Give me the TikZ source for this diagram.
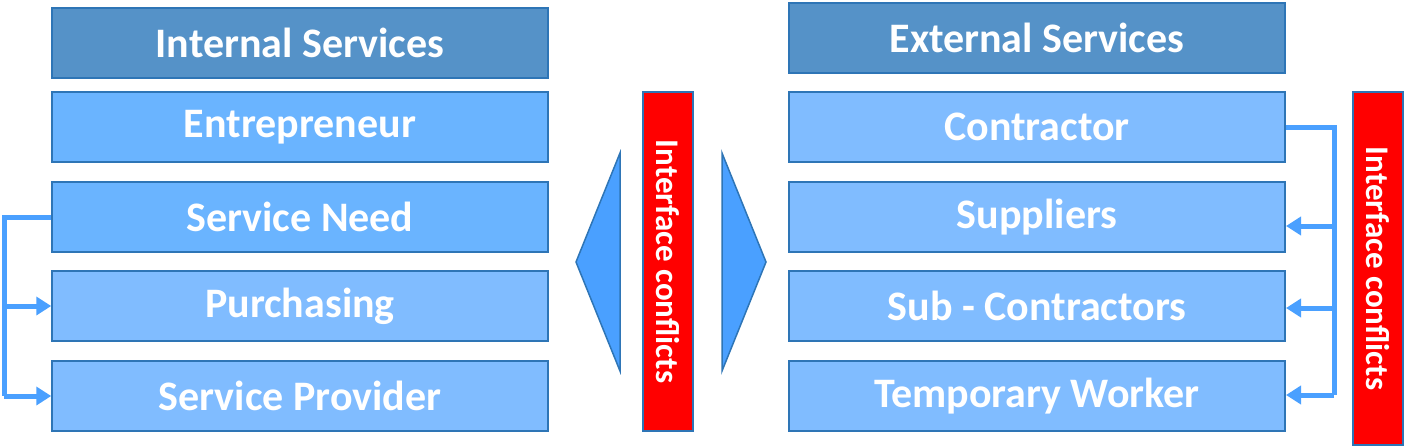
\documentclass[tikz,border=0pt]{standalone}
\usepackage{fontspec}
\setmainfont{Carlito}
\usepackage{tikz}
\usetikzlibrary{arrows.meta,positioning}
\definecolor{headblue}{RGB}{85,146,200}
\definecolor{darkblue}{RGB}{106,180,255}
\definecolor{lightblue}{RGB}{128,188,255}
\definecolor{edgeblue}{RGB}{46,117,182}
\definecolor{linkblue}{RGB}{74,160,255}

\begin{document}
\begin{tikzpicture}[x=1pt,y=-1pt]
\tikzstyle{sb}=[draw=edgeblue,line width=1.5pt,minimum width=496pt,minimum height=70pt,inner sep=0pt,text=white,font=\fontsize{42}{48}\selectfont\bfseries]
\tikzstyle{ic}=[draw=edgeblue,line width=1.5pt,fill=red,minimum width=50pt,inner sep=0pt,text=white,font=\fontsize{33}{38}\selectfont\bfseries]
\tikzstyle{link}=[draw=linkblue,line width=5pt]
\tikzstyle{linkarrow}=[link,-{Triangle[length=15pt,width=18pt]}]
\useasboundingbox (0,0) rectangle (1410,447);
% left column
\node[sb,fill=headblue] (is) at (300,43) {Internal Services};
\node[sb,fill=darkblue] (ent) at (300,127) {Entrepreneur};
\node[sb,fill=darkblue] (need) at (300,217) {Service Need};
\node[sb,fill=lightblue] (pur) at (300,306) {Purchasing};
\node[sb,fill=lightblue] (prov) at (300,396) {Service Provider};
% right column
\node[sb,fill=headblue] (es) at (1037,38) {External Services};
\node[sb,fill=lightblue] (con) at (1037,127) {Contractor};
\node[sb,fill=lightblue] (sup) at (1037,217) {Suppliers};
\node[sb,fill=lightblue] (sub) at (1037,306) {Sub - Contractors};
\node[sb,fill=lightblue] (tmp) at (1037,396) {Temporary Worker};
% interface conflicts
\node[ic,minimum height=339pt] (ic1) at (668,261.5) {\rotatebox{-90}{Interface conflicts}};
\node[ic,minimum height=353pt] (ic2) at (1378,268.5) {\rotatebox{-90}{Interface conflicts}};
\draw[draw=edgeblue,line width=1.5pt,fill=linkblue] (620,153) -- (576,262) -- (620,371) -- cycle;
\draw[draw=edgeblue,line width=1.5pt,fill=linkblue] (722,153) -- (766,262) -- (722,371) -- cycle;
% left links
\coordinate (lt) at (4,217);
\draw[link] (need.west) -- (lt) -- (4,396);
\draw[linkarrow] (4,306) -- (pur.west);
\draw[linkarrow] (4,396) -- (prov.west);
% right links
\coordinate (rt) at (1334,127);
\draw[link] (con.east) -- (rt) -- (1334,395);
\draw[linkarrow] (1334,226) -- (1286,226);
\draw[linkarrow] (1334,308) -- (1286,308);
\draw[linkarrow] (1334,395) -- (1286,395);
\end{tikzpicture}
\end{document}
